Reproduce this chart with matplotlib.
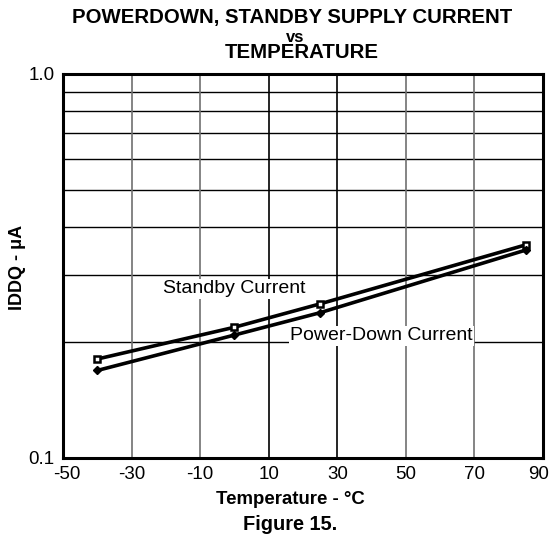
import numpy as np
import matplotlib
matplotlib.use('Agg')
import matplotlib.pyplot as plt
from matplotlib.ticker import FixedLocator, NullFormatter
from matplotlib.transforms import ScaledTranslation

plt.rcParams['font.family'] = ['Liberation Sans', 'DejaVu Sans']

temp = [-40, 0, 25, 85]
standby = [0.181, 0.219, 0.252, 0.359]
powerdown = [0.169, 0.209, 0.239, 0.348]
xticks = [-50, -30, -10, 10, 30, 50, 70, 90]

fig = plt.figure(figsize=(5.51, 5.46), dpi=100)
ax = fig.add_axes([0.1143, 0.1612, 0.8712, 0.7033])
ax.set_yscale('log')
ax.set_xlim(-50, 90)
ax.set_ylim(0.1, 1.0)

# grid
for v in np.arange(0.2, 1.0, 0.1):
    ax.axhline(v, color='black', lw=1.0, zorder=1)
for x in xticks[1:-1]:
    c = 'black' if x in (10, 30) else '#707070'
    ax.axvline(x, color=c, lw=1.2, zorder=1)

ax.plot(temp, standby, color='black', lw=2.6, marker='s', ms=4.5,
        mfc='white', mew=1.8, zorder=3)
ax.plot(temp, powerdown, color='black', lw=2.6, marker='D', ms=4.5,
        mfc='black', zorder=3)

ax.text(-20.8, 0.2755, 'Standby Current', fontsize=14, va='center',
        bbox=dict(facecolor='white', edgecolor='none', pad=1), zorder=2)
ax.text(16.2, 0.208, 'Power-Down Current', fontsize=14, va='center',
        bbox=dict(facecolor='white', edgecolor='none', pad=1), zorder=2)

ax.set_xticks(xticks)
ax.set_xticklabels([str(x) for x in xticks])
ax.yaxis.set_major_locator(FixedLocator([0.1, 1.0]))
ax.set_yticklabels(['0.1', '1.0'])
ax.yaxis.set_minor_formatter(NullFormatter())
ax.tick_params(which='both', length=0, labelsize=13.5, pad=6)
for s in ax.spines.values():
    s.set_linewidth(2.2)

labels = ax.get_xticklabels()
labels[0].set_transform(labels[0].get_transform() +
                        ScaledTranslation(4 / 100, 0, fig.dpi_scale_trans))
labels[-1].set_transform(labels[-1].get_transform() +
                         ScaledTranslation(-4 / 100, 0, fig.dpi_scale_trans))

fig.text(290 / 551, 1 - 500 / 546, 'Temperature - \u00b0C', ha='center',
         va='center', fontsize=13.4, fontweight='bold')
fig.text(18 / 551, 1 - 267 / 546, 'IDDQ - \u03bcA', ha='center',
         va='center', rotation=90, fontsize=13, fontweight='bold')

fig.text(292 / 551, 1 - 17 / 546, 'POWERDOWN, STANDBY SUPPLY CURRENT',
         ha='center', va='center', fontsize=14.7, fontweight='bold')
fig.text(295 / 551, 1 - 37 / 546, 'vs', ha='center', va='center',
         fontsize=12, fontweight='bold')
fig.text(302 / 551, 1 - 53 / 546, 'TEMPERATURE', ha='center', va='center',
         fontsize=14.7, fontweight='bold')
fig.text(290 / 551, 1 - 525 / 546, 'Figure 15.', ha='center', va='center',
         fontsize=14.4, fontweight='bold')

fig.savefig('out.png', dpi=100)
